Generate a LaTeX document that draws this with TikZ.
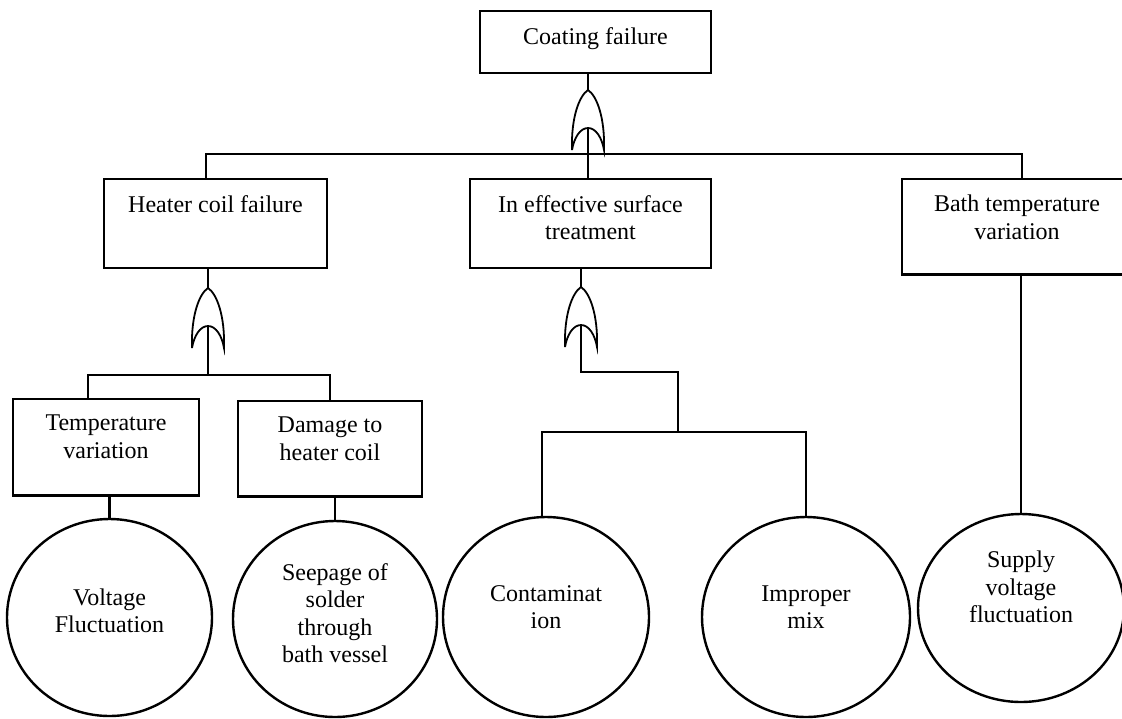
\documentclass[tikz,border=0pt]{standalone}
\usepackage{fontspec}
\setmainfont{Liberation Serif}
\usetikzlibrary{shapes.geometric}

\begin{document}
\begin{tikzpicture}[x=0.5pt,y=-0.5pt,line width=1.2pt,font=\fontsize{12}{13.8}\selectfont,
  event/.style={draw,rectangle,anchor=north,align=center,inner xsep=0pt,inner ysep=8pt},
  basic/.style={draw,ellipse,align=center,inner sep=0pt}]
\newcommand{\orgate}[3]{%
  \begin{scope}[shift={(#2,#3)},line width=0.9pt]
    \draw (-16,60) .. controls (-17,28) and (-9,6) .. (0,0)
      .. controls (9,6) and (17,28) .. (16,60)
      .. controls (14,48) and (8,38) .. (0,38)
      .. controls (-8,38) and (-14,48) .. (-16,60);
    \coordinate (#1top) at (0,0);
    \coordinate (#1bot) at (0,38);
  \end{scope}
}
\useasboundingbox (0,0) rectangle (1122,718);

\node[event,minimum width=115.5pt,text depth=6.5pt] (coat) at (595.5,10) {Coating failure};
\node[event,minimum width=111.5pt,text depth=20pt] (heater) at (215.5,178) {Heater coil failure};
\node[event,minimum width=120.5pt,text depth=6pt] (surf) at (590.5,178) {In effective surface\\treatment};
\node[event,minimum width=115pt,text depth=9.5pt] (bath) at (1017,178) {Bath temperature\\variation};
\node[event,minimum width=93pt,text depth=10.5pt] (tempvar) at (106,398) {Temperature\\variation};
\node[event,minimum width=92pt,text depth=10pt] (damage) at (330,400) {Damage to\\heater coil};

\node[basic,minimum width=102.5pt,minimum height=98.5pt,text depth=7pt] (volt) at (109.5,617.5) {Voltage\\Fluctuation};
\node[basic,minimum width=102pt,minimum height=98pt,text depth=6pt] (seep) at (335,619) {Seepage of\\solder\\through\\bath vessel};
\node[basic,minimum width=103pt,minimum height=100pt,text depth=10pt] (contam) at (546,617) {Contaminat\\ion};
\node[basic,minimum width=104pt,minimum height=100pt,text depth=10pt] (improper) at (806,617) {Improper\\mix};
\node[basic,minimum width=103pt,minimum height=94pt,text depth=21pt] (supply) at (1021,608) {Supply\\voltage\\fluctuation};

\orgate{ga}{588}{90}
\orgate{gb}{208}{288}
\orgate{gc}{581}{287}

\coordinate (bar1) at (588,154);
\coordinate (bar2) at (208,375);
\coordinate (elbow) at (678,372);
\coordinate (bar3) at (678,432);

\draw (gatop |- coat.south) -- (gatop);
\draw ([xshift=-4.75pt]heater.north) |- (bar1) -| ([xshift=2.5pt]bath.north);
\draw (gabot) -- (gabot |- surf.north);

\draw (gbtop |- heater.south) -- (gbtop);
\draw (gbbot) -- (bar2);
\draw ([xshift=-9pt]tempvar.north) |- (bar2) -| (damage.north);
\draw (volt.north |- tempvar.south) -- (volt.north);
\draw (seep.north |- damage.south) -- (seep.north);

\draw (gctop |- surf.south) -- (gctop);
\draw (gcbot) |- (elbow) -- (bar3);
\draw ([xshift=-2pt]contam.north) |- (bar3) -| (improper.north);

\draw (supply.north |- bath.south) -- (supply.north);
\end{tikzpicture}
\end{document}
